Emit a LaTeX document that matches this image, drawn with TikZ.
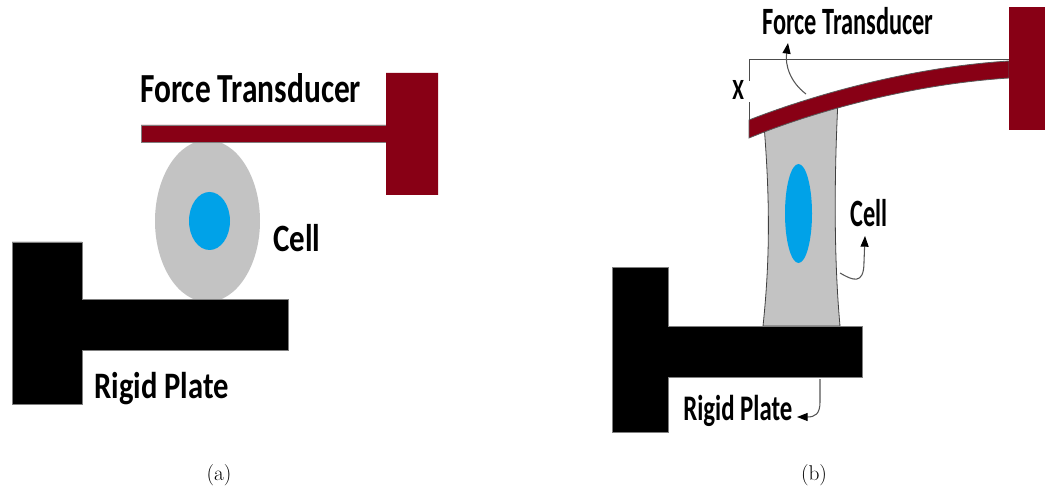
\documentclass[tikz,border=0pt]{standalone}
\usepackage{fontspec}
\usepackage{graphicx}
\newfontfamily\labelfont{Carlito}
\usetikzlibrary{arrows.meta}
\definecolor{transred}{HTML}{880015}
\definecolor{cellgray}{HTML}{C3C3C3}
\definecolor{nucblue}{HTML}{00A2E8}
\definecolor{edgegray}{HTML}{7F7F7F}
\definecolor{pointergray}{HTML}{555555}
% horizontally condensed label text
\newcommand\squeezed[2]{\scalebox{#1}[1]{#2}}
\begin{document}
\begin{tikzpicture}[x=0.75pt,y=0.75pt,
  lbl/.style={inner sep=0pt, anchor=base west,
    font=\labelfont\bfseries\fontsize{#1}{#1}\selectfont},
  caption/.style={inner sep=0pt, anchor=base, font=\fontsize{16}{16}\selectfont},
  transducer/.style={fill=transred},
  plate/.style={fill=black, draw=edgegray, line width=0.6pt},
  cellbody/.style={fill=cellgray},
  nucleus/.style={fill=nucblue},
  refline/.style={draw=black!70, line width=0.7pt},
  pointer/.style={draw=pointergray, line width=0.8pt,
    -{Triangle[length=8pt,width=6pt,black]}},
]
\useasboundingbox (0,0) rectangle (1045,-488);

% ---------------- (a) resting cell ----------------
\fill[cellbody] (207.5,-221) ellipse [x radius=52.5, y radius=81];
\fill[nucleus] (209.5,-221) ellipse [x radius=20.5, y radius=29];
% force transducer: arm and clamp block
\fill[transducer] (141,-125) -- (386,-125) -- (386,-73) -- (438,-73)
  -- (438,-195) -- (386,-195) -- (386,-142) -- (141,-142) -- cycle;
\draw[edgegray, line width=0.7pt] (386,-125) -- (141,-125) -- (141,-142) -- (386,-142);
% rigid plate
\path[plate] (12,-242) -- (82,-242) -- (82,-299) -- (288,-299) -- (288,-350)
  -- (82,-350) -- (82,-404) -- (12,-404) -- cycle;

\node[lbl=31] (ftA) at (140,-103) {\squeezed{0.76}{Force Transducer}};
\node[lbl=29] (cellA) at (273,-252) {\squeezed{0.8}{Cell}};
\node[lbl=28] (plateA) at (94,-398) {\squeezed{0.82}{Rigid Plate}};

% ---------------- (b) stretched cell ----------------
\filldraw[cellbody, draw=black!75, line width=0.6pt]
  (764,-125) .. controls (770,-200) and (770,-260) .. (763,-326)
  -- (840,-326) .. controls (834,-260) and (834,-180) .. (838,-100) -- cycle;
\fill[nucleus] (798.5,-213.5) ellipse [x radius=13.5, y radius=49.5];
% deflected transducer arm and clamp block
\filldraw[transducer, draw=black!65, line width=0.6pt]
  (749,-120) .. controls (800,-100) and (900,-68) .. (1009,-61)
  -- (1009,-78) .. controls (900,-85) and (800,-117) .. (749,-138) -- cycle;
\fill[transducer] (1009,-7) rectangle (1045,-130);
% rigid plate
\path[plate] (612,-267) -- (668,-267) -- (668,-326) -- (862,-326) -- (862,-377)
  -- (668,-377) -- (668,-432) -- (612,-432) -- cycle;

% deflection reference
\node[lbl=22] (xlabel) at (732,-100) {\squeezed{0.72}{X}};
\coordinate (xfix) at (1009,-59);
\coordinate (xtop) at (749,-59);
\coordinate (xbot) at (749,-120);
\draw[refline] (xfix) -- (xtop) -- (xtop |- xlabel.north);
\draw[refline] (xbot |- xlabel.south) ++(0,-2) -- (xbot);

\node[lbl=29] (ftB) at (762,-35) {\squeezed{0.63}{Force Transducer}};
\node[lbl=29] (cellB) at (850,-227) {\squeezed{0.63}{Cell}};
\node[lbl=27] (plateB) at (683,-420) {\squeezed{0.69}{Rigid Plate}};

% pointers to the labels
\coordinate (ftfrom) at (806,-94);
\coordinate (ftto) at (788,-43);
\draw[pointer] (ftfrom) .. controls (790,-82) and (785,-65) .. (ftto);
\coordinate (cfrom) at (840,-273);
\coordinate (cto) at (865,-236);
\draw[pointer] (cfrom) .. controls (852,-280) and (864,-286) .. (864,-262) -- (cto);
\coordinate (pfrom) at (820,-379);
\coordinate (pto) at (797,-417);
\draw[pointer] (pfrom) -- (820,-402) .. controls (820,-414) and (815,-417) .. (pto);

% sub-figure captions
\node[caption] (capA) at (219,-480) {(a)};
\node[caption] (capB) at (814,-480) {(b)};
\end{tikzpicture}
\end{document}
